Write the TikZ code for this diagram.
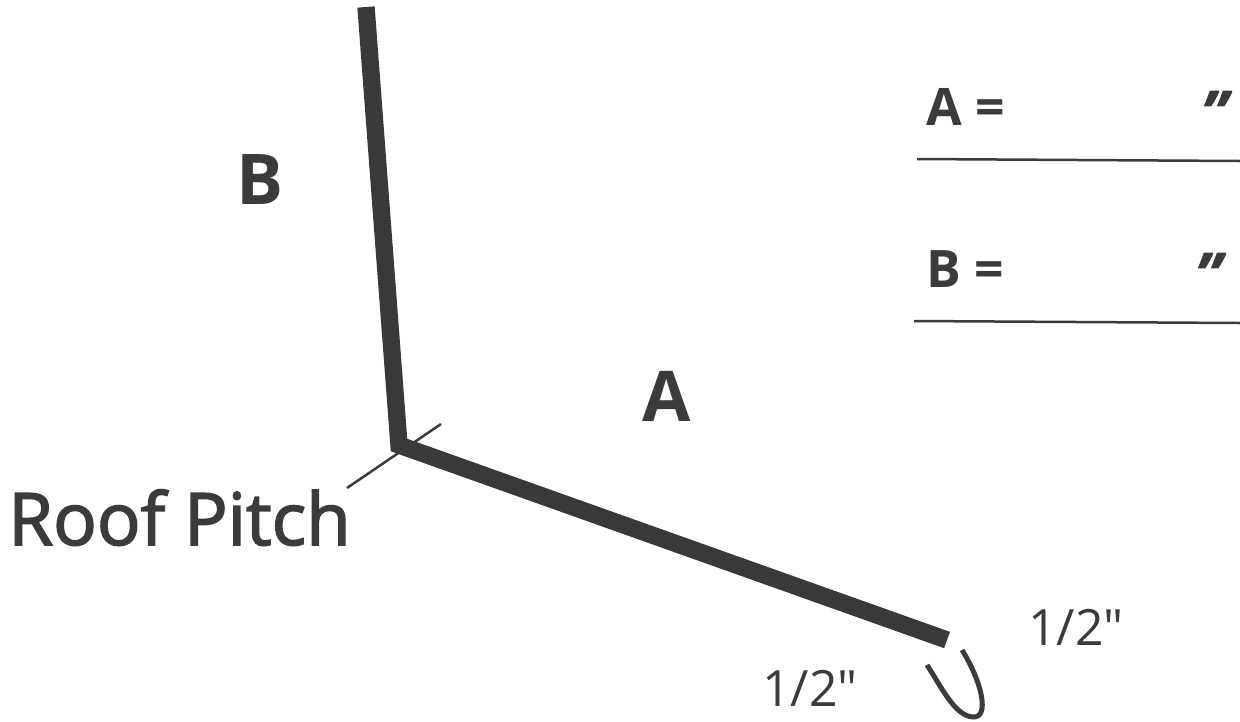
\documentclass[tikz,border=0pt]{standalone}
\usepackage{fontspec}
\setmainfont{Open Sans}
\definecolor{barc}{HTML}{3A383B}
\definecolor{inkc}{HTML}{3C3A3D}
\tikzset{
 bar/.style={draw=barc,line width=10.4pt,line join=miter},
 thin line/.style={draw=inkc,line width=1.5pt},
 curve line/.style={draw=inkc,line width=3pt},
 big/.style={inner sep=0,text=inkc,font=\fontsize{42}{42}\selectfont\bfseries},
 eq/.style={inner sep=0,text=inkc,font=\fontsize{31}{31}\selectfont\bfseries,anchor=base west},
 quot/.style={inner sep=0,text=inkc,font=\fontsize{36}{36}\selectfont\bfseries\itshape\addfontfeature{FakeBold=1.5},anchor=base west},
 frac/.style={inner sep=0,text=inkc,font=\fontsize{30}{30}\selectfont,anchor=base west},
 lab/.style={inner sep=0,text=inkc,font=\fontsize{43.5}{43.5}\selectfont\addfontfeature{FakeBold=2.2},anchor=base west},
}
\begin{document}
\begin{tikzpicture}[x=0.6pt,y=-0.6pt]
\useasboundingbox (0,0) rectangle (1240,721);
\coordinate (top) at (366,7);
\coordinate (corner) at (399,445);
\coordinate (end) at (947,640);
\draw[bar] (top) -- (corner) -- (end);
\coordinate (t1) at (441,424);
\coordinate (t2) at (347,488);
\draw[thin line] (t1) -- (t2);
\node[big] (nB) at (260,180) {B};
\node[big] (nA) at (667,396) {A};
\node[lab] (roof) at (8,545) {Roof Pitch};
\node[eq] (eqA) at (926,125) {A =};
\node[eq] (eqB) at (926,287) {B =};
\node[quot] (q1) at (1201,134) {"};
\node[quot] (q2) at (1195,296) {"};
\coordinate (l1a) at (917,159);
\coordinate (l1b) at (1240,161);
\coordinate (l2a) at (914,321);
\coordinate (l2b) at (1240,323);
\draw[thin line] (l1a) -- (l1b);
\draw[thin line] (l2a) -- (l2b);
\node[frac] (h1) at (1028,645) {1/2″};
\node[frac] (h2) at (762,706) {1/2″};
\coordinate (u1) at (927,665);
\coordinate (u2) at (962,650);
\draw[curve line] (u1) .. controls (942,688) and (955,716) .. (973,717) .. controls (990,718) and (982,682) .. (u2);
\end{tikzpicture}
\end{document}
